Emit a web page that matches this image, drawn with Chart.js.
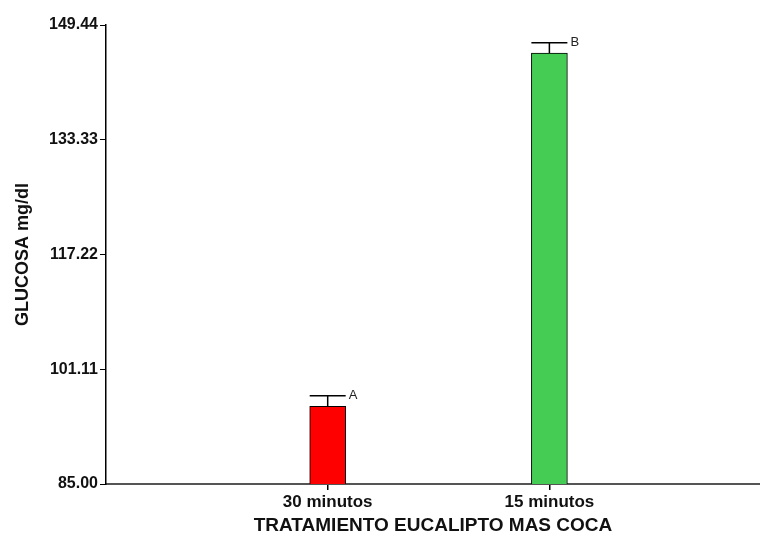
<!DOCTYPE html>
<html lang="es">
  <head>
    <meta charset="UTF-8" />
    <title>Glucosa - tratamiento eucalipto mas coca</title>
    <script src="https://cdn.jsdelivr.net/npm/chart.js"></script>
    <style>
      html, body { margin: 0; padding: 0; background: #fff; }
      #wrap { width: 760px; height: 533px; }
    </style>
  </head>
  <body>
    <div id="wrap"><canvas id="glucosaChart"></canvas></div>

    <script>
      const categorias = ['30 minutos', '15 minutos'];
      const posiciones = [1, 2];
      const glucosa = [95.9, 145.5];
      const errores = [1.5, 1.45];
      const letras = ['A', 'B'];
      const colores = ['#ff0000', '#44cc55'];
      const ticksY = [85.00, 101.11, 117.22, 133.33, 149.44];

      const fuente = '"Liberation Sans", Arial, sans-serif';

      // barras de error y letras de significancia
      const errorBars = {
        id: 'errorBars',
        afterDatasetsDraw(chart) {
          const ctx = chart.ctx;
          const meta = chart.getDatasetMeta(0);
          const y = chart.scales.y;
          ctx.save();
          meta.data.forEach((bar, i) => {
            const top = y.getPixelForValue(glucosa[i] + errores[i]);
            const half = bar.width / 2;
            ctx.strokeStyle = '#000';
            ctx.lineWidth = 1.5;
            ctx.beginPath();
            ctx.moveTo(bar.x, bar.y);
            ctx.lineTo(bar.x, top);
            ctx.moveTo(bar.x - half, top);
            ctx.lineTo(bar.x + half, top);
            ctx.stroke();
            ctx.fillStyle = '#222';
            ctx.font = '13px ' + fuente;
            ctx.textAlign = 'left';
            ctx.textBaseline = 'middle';
            ctx.fillText(letras[i], bar.x + half + 3, top);
          });
          ctx.restore();
        }
      };

      const ctx = document.getElementById('glucosaChart').getContext('2d');
      new Chart(ctx, {
        type: 'bar',
        data: {
          datasets: [{
            data: posiciones.map((p, i) => ({ x: p, y: glucosa[i] })),
            backgroundColor: colores,
            borderColor: '#000',
            borderWidth: 1,
            borderSkipped: false,
            barThickness: 36
          }]
        },
        plugins: [errorBars],
        options: {
          responsive: true,
          maintainAspectRatio: false,
          animation: false,
          layout: { padding: { top: 25, right: 0, left: 0, bottom: 0 } },
          plugins: {
            legend: { display: false },
            tooltip: { enabled: false }
          },
          scales: {
            x: {
              type: 'linear',
              offset: false,
              min: 0,
              max: 2.95,
              afterBuildTicks: scale => { scale.ticks = posiciones.map(v => ({ value: v })); },
              afterFit: scale => { scale.height = 49; },
              border: { color: '#555', width: 2 },
              grid: {
                display: true,
                offset: false,
                drawOnChartArea: false,
                drawTicks: true,
                color: '#000',
                lineWidth: 1.5,
                tickLength: 6
              },
              ticks: {
                color: '#111',
                padding: 2,
                font: { family: fuente, size: 17, weight: 'bold' },
                callback: v => categorias[posiciones.indexOf(v)]
              },
              title: {
                display: true,
                text: 'TRATAMIENTO EUCALIPTO MAS COCA',
                color: '#111',
                padding: { top: 0, bottom: -4 },
                font: { family: fuente, size: 19, weight: 'bold' }
              }
            },
            y: {
              min: 85,
              max: 149.44,
              afterBuildTicks: scale => { scale.ticks = ticksY.map(v => ({ value: v })); },
              afterFit: scale => { scale.width = 106; },
              border: { color: '#000', width: 1.5 },
              grid: { drawOnChartArea: false, color: '#000', tickLength: 6 },
              ticks: {
                color: '#111',
                padding: 2,
                font: { family: fuente, size: 16, weight: 'bold' },
                callback: v => v.toFixed(2)
              },
              title: {
                display: true,
                text: 'GLUCOSA mg/dl',
                color: '#111',
                padding: { top: 12, bottom: 0 },
                font: { family: fuente, size: 18, weight: 'bold' }
              }
            }
          }
        }
      });
    </script>
  </body>
</html>
